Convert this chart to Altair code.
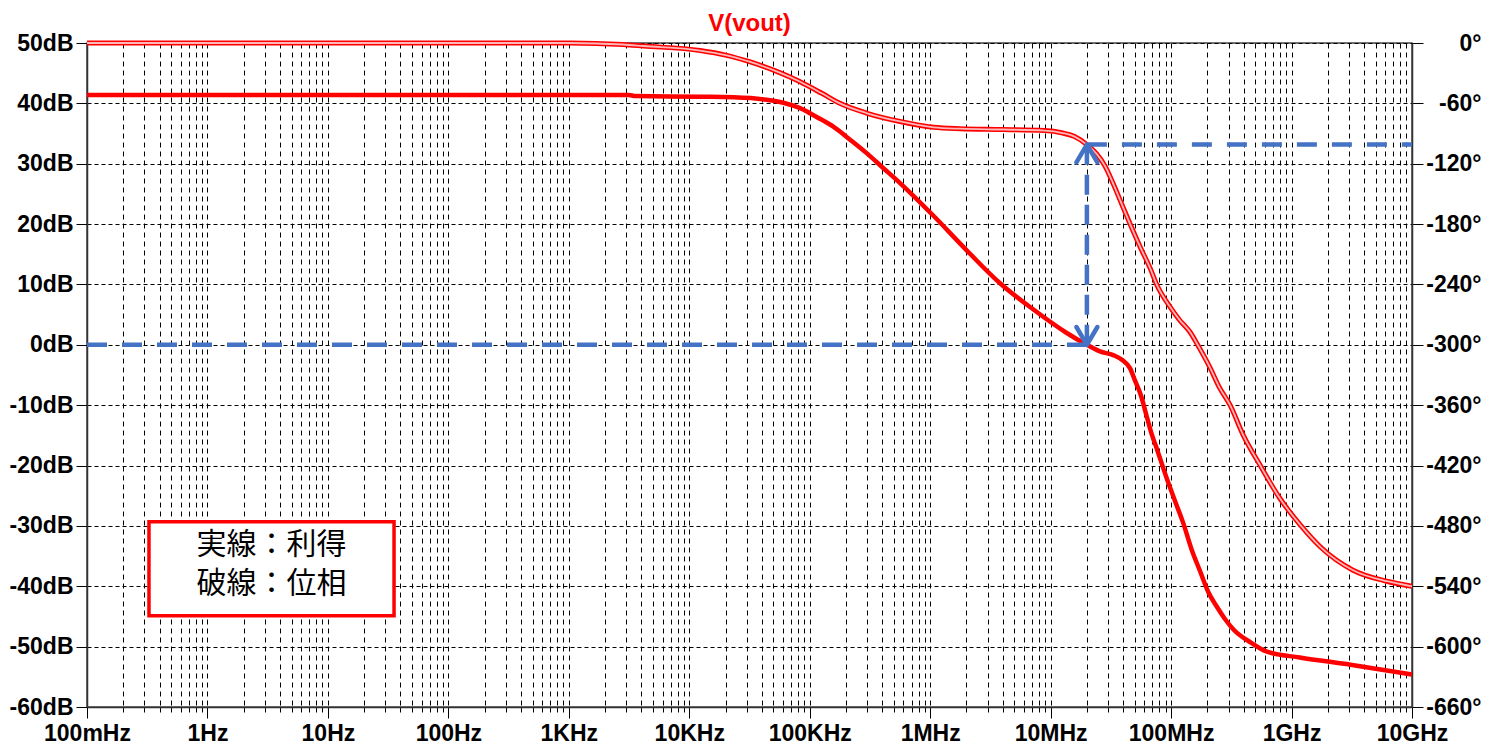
import json

import altair as alt
import pandas as pd

# ---- axes -----------------------------------------------------------------
DECADES = [1e-1, 1e0, 1e1, 1e2, 1e3, 1e4, 1e5, 1e6, 1e7, 1e8, 1e9, 1e10]
DECADE_LABELS = ["100mHz", "1Hz", "10Hz", "100Hz", "1KHz", "10KHz", "100KHz",
                 "1MHz", "10MHz", "100MHz", "1GHz", "10GHz"]
DB_TICKS = list(range(-60, 51, 10))
PHASE_TICKS = list(range(-660, 1, 60))

# ---- open-loop response V(vout) -------------------------------------------
GAIN_FREQ = [0.1, 3.16e3, 3.55e3, 1.23e4, 2.34e4, 4.37e4, 6.03e4, 8.32e4,
             1.15e5, 1.58e5, 2.19e5, 2.95e5, 4.07e5, 5.62e5,
             1.05e6, 2.0e6, 3.8e6, 7.24e6,
             1.35e7, 2.0e7, 2.57e7, 3.31e7, 3.98e7, 4.57e7, 5.01e7, 5.62e7,
             6.17e7, 6.76e7, 7.76e7, 9.12e7,
             1.07e8, 1.26e8, 1.48e8, 1.74e8, 2.04e8, 2.40e8, 2.82e8, 3.31e8,
             4.57e8, 6.17e8, 1.17e9, 3.09e9, 1e10]
GAIN_DB = [41.4, 41.4, 41.2, 41.1, 41.0, 40.6, 40.1, 39.2,
           37.7, 36.1, 33.9, 31.8, 29.3, 26.8,
           21.5, 15.7, 10.2, 5.8,
           2.0, 0.0, -1.1, -1.7, -2.6, -3.9, -5.9, -8.4,
           -11.3, -14.2, -17.7, -21.9,
           -25.7, -29.5, -33.9, -37.5, -41.0, -43.4, -45.5, -47.2,
           -49.3, -50.8, -51.8, -53.0, -54.6]

PHASE_FREQ = [0.1, 1e3, 2.82e3, 4.17e3, 1.23e4, 2.0e4, 3.16e4, 5.25e4, 8.32e4,
              1.26e5, 1.78e5, 2.95e5, 5.62e5, 1.07e6, 1.78e6, 3.98e6, 8.91e6,
              1.26e7, 1.58e7, 2.0e7, 2.40e7, 2.82e7, 3.31e7, 3.89e7, 4.57e7,
              5.50e7, 6.76e7, 7.59e7, 9.77e7, 1.17e8, 1.45e8, 1.66e8, 2.09e8,
              2.51e8, 3.09e8, 3.98e8, 5.50e8, 7.94e8, 1.20e9, 1.74e9, 3.24e9,
              6.17e9, 1e10]
PHASE_DEG = [0, 0, -1.5, -3, -7.5, -12, -18.6, -28, -38.5,
             -50, -60, -69.6, -78, -83.8, -85.2, -86, -87,
             -89.5, -93, -101, -110, -122, -140, -160, -180,
             -202, -225, -240, -262, -275, -288, -300, -322,
             -342, -360, -390, -420, -452, -480, -501, -524,
             -535, -540]

# unity-gain crossover and the phase reached there
F_CROSS = 2.0e7
PHASE_AT_CROSS = -101
PHASE_AT_0DB = -300          # right-axis level that lines up with 0 dB

# legend box (frequency span, dB span) and its text
LEGEND_F = [0.327, 35.4]
LEGEND_DB = [-29.3, -44.9]
LEGEND_TEXT_F = 3.4
LEGEND_TEXT_DB = [-33.2, -39.7]
LEGEND_LINES = ["実線：利得", "破線：位相"]

RED = "#ff0000"
BLUE = "#4472c4"
FONT = "Liberation Sans"
CJK_FONT = "Noto Sans CJK JP"

# ---- scales / axes ----------------------------------------------------------
grid_values = [m * d for d in DECADES[:-1] for m in range(1, 10)] + [DECADES[-1]]
IS_DECADE = "abs(log(datum.value)/LN10 - round(log(datum.value)/LN10)) < 1e-6"
label_expr = (f"{IS_DECADE} ? {json.dumps(DECADE_LABELS)}"
              f"[round(log(datum.value)/LN10) + 1] : ''")

x_scale = alt.Scale(type="log", domain=[DECADES[0], DECADES[-1]], nice=False)
x_axis = alt.Axis(
    values=grid_values, title=None, labelExpr=label_expr,
    grid=True, gridColor="black", gridDash=[5, 4], gridWidth=1, gridOpacity=1,
    domainColor="#333333", domainWidth=1.5,
    tickColor="black", tickWidth=1,
    tickSize={"condition": {"test": IS_DECADE, "value": 11}, "value": 5},
    labelFont=FONT, labelFontSize=23, labelFontWeight="bold", labelColor="black",
    labelPadding=4, labelOverlap=False, labelFlush=False, labelBound=False,
)
X = alt.X("f:Q", scale=x_scale, axis=x_axis)
X2 = alt.X2("f2:Q")

db_scale = alt.Scale(domain=[DB_TICKS[0], DB_TICKS[-1]], nice=False, zero=False)
db_axis = alt.Axis(
    orient="left", values=DB_TICKS, title=None, labelExpr="datum.value + 'dB'",
    grid=True, gridColor="black", gridDash=[4, 3], gridWidth=1, gridOpacity=1,
    domainColor="#333333", domainWidth=1.5, tickColor="black", tickSize=11,
    labelFont=FONT, labelFontSize=23, labelFontWeight="bold", labelColor="black",
    labelPadding=3, labelOverlap=False, labelBound=False,
)
Y_DB = alt.Y("db:Q", scale=db_scale, axis=db_axis)

ph_scale = alt.Scale(domain=[PHASE_TICKS[0], PHASE_TICKS[-1]], nice=False, zero=False)
ph_axis = alt.Axis(
    orient="right", values=PHASE_TICKS, title=None, labelExpr="datum.value + '°'",
    grid=False, domainColor="#333333", domainWidth=1.5, tickColor="black",
    tickSize=11, labelAlign="right", labelPadding=58,
    labelFont=FONT, labelFontSize=23, labelFontWeight="bold", labelColor="black",
    labelOverlap=False, labelBound=False,
)
Y_PH = alt.Y("ph:Q", scale=ph_scale, axis=ph_axis)

# ---- data tables ------------------------------------------------------------
gain_df = pd.DataFrame({"f": GAIN_FREQ, "db": GAIN_DB})
phase_df = pd.DataFrame({"f": PHASE_FREQ, "ph": PHASE_DEG})
legend_box = pd.DataFrame({"f": [LEGEND_F[0]], "f2": [LEGEND_F[1]],
                           "db": [LEGEND_DB[0]], "db2": [LEGEND_DB[1]]})
legend_txt = pd.DataFrame({"f": [LEGEND_TEXT_F] * 2, "db": LEGEND_TEXT_DB,
                           "t": LEGEND_LINES})
zero_line = pd.DataFrame({"f": [DECADES[0]], "f2": [F_CROSS], "db": [0]})
pm_line = pd.DataFrame({"f": [F_CROSS], "f2": [DECADES[-1]], "ph": [PHASE_AT_CROSS]})
pm_arrow = pd.DataFrame({"f": [F_CROSS], "ph": [PHASE_AT_0DB], "ph2": [PHASE_AT_CROSS]})
tip_up = pd.DataFrame({"f": [F_CROSS], "ph": [PHASE_AT_CROSS]})
tip_down = pd.DataFrame({"f": [F_CROSS], "ph": [PHASE_AT_0DB]})

# ---- left (dB) layers ---------------------------------------------------------
box = alt.Chart(legend_box).mark_rect(
    fill="white", stroke=RED, strokeWidth=3.5
).encode(x=X, x2=X2, y=Y_DB, y2=alt.Y2("db2:Q"))

box_text = alt.Chart(legend_txt).mark_text(
    font=CJK_FONT, fontSize=30, color="black", align="center", baseline="middle"
).encode(x=X, y=Y_DB, text="t:N")

gain = alt.Chart(gain_df).mark_line(
    color=RED, strokeWidth=4.5, interpolate="monotone"
).encode(x=X, y=Y_DB)

zero_db = alt.Chart(zero_line).mark_rule(
    color=BLUE, strokeWidth=4.5, strokeDash=[20, 15]
).encode(x=X, x2=X2, y=Y_DB)

left = alt.layer(box, box_text, gain, zero_db)

# ---- right (phase) layers -----------------------------------------------------
phase_outer = alt.Chart(phase_df).mark_line(
    color=RED, strokeWidth=5, interpolate="monotone"
).encode(x=X, y=Y_PH)
phase_inner = alt.Chart(phase_df).mark_line(
    color="#ffb8b8", strokeWidth=1.8, interpolate="monotone"
).encode(x=X, y=Y_PH)

pm_h = alt.Chart(pm_line).mark_rule(
    color=BLUE, strokeWidth=4.5, strokeDash=[20, 15]
).encode(x=X, x2=X2, y=Y_PH)

pm_v = alt.Chart(pm_arrow).mark_rule(
    color=BLUE, strokeWidth=4.5, strokeDash=[20, 10]
).encode(x=X, y=Y_PH, y2=alt.Y2("ph2:Q"))

head_up = alt.Chart(tip_up).mark_point(
    shape="M-1,1.7L0,0L1,1.7", size=440, filled=False, stroke=BLUE,
    strokeWidth=4.5, strokeJoin="round", strokeCap="round", opacity=1
).encode(x=X, y=Y_PH)
head_down = alt.Chart(tip_down).mark_point(
    shape="M-1,-1.7L0,0L1,-1.7", size=440, filled=False, stroke=BLUE,
    strokeWidth=4.5, strokeJoin="round", strokeCap="round", opacity=1
).encode(x=X, y=Y_PH)

right = alt.layer(phase_outer, phase_inner, pm_h, pm_v, head_up, head_down)

chart = (
    alt.layer(left, right)
    .resolve_scale(y="independent")
    .properties(
        width=1325, height=664,
        autosize=alt.AutoSizeParams(type="none"),
        padding={"left": 87, "top": 43, "right": 73, "bottom": 39},
        title=alt.Title("V(vout)", color=RED, font=FONT, fontSize=24,
                        fontWeight="bold", anchor="middle", frame="group",
                        baseline="alphabetic", offset=10, dy=33),
    )
    .configure(background="white")
    .configure_view(stroke="#444444", strokeWidth=1.5)
)

chart.save("out.html", embed_options={"renderer": "svg", "actions": False})
